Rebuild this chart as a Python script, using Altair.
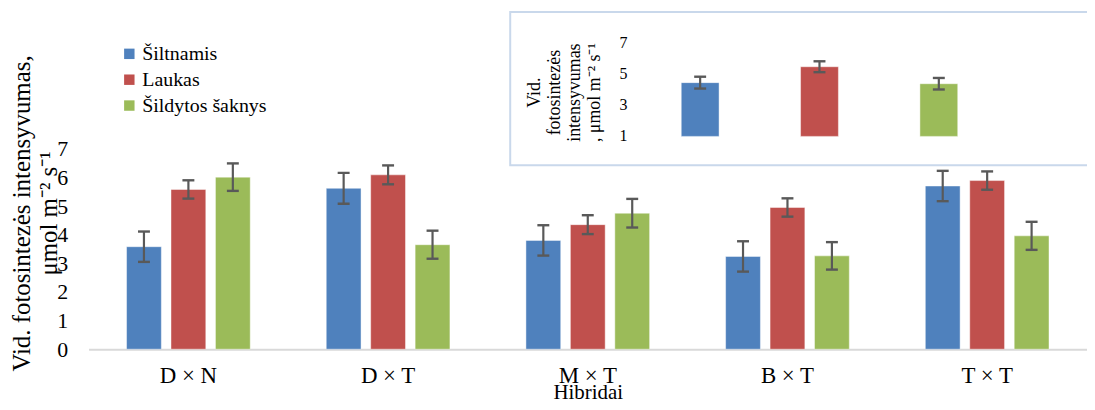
import altair as alt
import pandas as pd

# ---------------- data ----------------
hybrids = ["D × N", "D × T", "M × T", "B × T", "T × T"]
series = ["Šiltnamis", "Laukas", "Šildytos šaknys"]
colors = ["#4F81BD", "#C0504D", "#9BBB59"]

siltnamis = [3.58, 5.62, 3.80, 3.24, 5.70]
siltnamis_err = [0.53, 0.54, 0.53, 0.53, 0.53]
laukas = [5.58, 6.09, 4.35, 4.95, 5.89]
laukas_err = [0.32, 0.33, 0.33, 0.32, 0.32]
saknys = [6.01, 3.65, 4.75, 3.26, 3.96]
saknys_err = [0.48, 0.49, 0.50, 0.48, 0.49]

inset_values = [4.45, 5.47, 4.38]
inset_err = [0.38, 0.35, 0.37]

y_ticks = [0, 1, 2, 3, 4, 5, 6, 7]
inset_ticks = [1, 3, 5, 7]

y_title = ["Vid. fotosintezės intensyvumas,", "μmol m⁻² s⁻¹"]
inset_title = ["Vid.", "fotosintezės", "intensyvumas", ", μmol m⁻² s⁻¹"]
x_title = "Hibridai"

# ---------------- tables ----------------
rows = []
for s, vals, errs in zip(series, [siltnamis, laukas, saknys],
                         [siltnamis_err, laukas_err, saknys_err]):
    for h, v, e in zip(hybrids, vals, errs):
        rows.append({"hybrid": h, "series": s, "value": v, "lo": v - e, "hi": v + e})
df = pd.DataFrame(rows)

idf = pd.DataFrame({
    "series": series,
    "value": inset_values,
    "lo": [v - e for v, e in zip(inset_values, inset_err)],
    "hi": [v + e for v, e in zip(inset_values, inset_err)],
    "base": [1] * 3,
})
tdf = pd.DataFrame({"tick": inset_ticks, "label": [str(t) for t in inset_ticks]})
one = pd.DataFrame({"k": [0]})

FONT = "Liberation Serif"
ERR = "#595959"


def mx():
    return alt.Scale(domain=hybrids, paddingInner=0, paddingOuter=0)


def mxo():
    return alt.Scale(domain=series, paddingInner=0.217, paddingOuter=0.855)


def my():
    return alt.Scale(domain=[0, 11.88], nice=False, zero=True)


def ix():
    return alt.Scale(domain=series, range=[555, 915], paddingInner=0.683, paddingOuter=0.3415)


def iy():
    return alt.Scale(domain=[1, 7], range=[128, 34], nice=False, zero=False)


color = alt.Color(
    "series:N", sort=series,
    scale=alt.Scale(domain=series, range=colors),
    legend=alt.Legend(
        orient="none", legendX=31, legendY=35, title=None,
        symbolType="square", symbolSize=110, symbolStrokeWidth=0,
        labelFont=FONT, labelFontSize=20, labelColor="black",
        rowPadding=6, labelOffset=3, padding=0,
    ),
)

# ---------------- main chart ----------------
x_main = alt.X(
    "hybrid:N", sort=hybrids, scale=mx(),
    axis=alt.Axis(
        title=x_title, labelAngle=0, ticks=False, tickSize=0,
        domainColor="#D9D9D9", domainWidth=2,
        labelFont=FONT, labelFontSize=23, labelColor="black", labelPadding=15,
        titleFont=FONT, titleFontSize=21, titleFontWeight="normal", titleColor="black",
        titleBaseline="alphabetic", titleY=50,
    ),
)
y_main = alt.Y(
    "value:Q", scale=my(),
    axis=alt.Axis(
        values=y_ticks, grid=False, domain=False, ticks=False, tickSize=0,
        labelFont=FONT, labelFontSize=22, labelColor="black", labelPadding=21,
        title=y_title, titleFont=FONT, titleFontSize=25, titleFontWeight="normal",
        titleColor="black", titleAngle=270, titleAlign="center", titleBaseline="middle",
        titleLineHeight=27, titleX=-67, titleY=205,
    ),
)

bars = alt.Chart(df).mark_bar(stroke="white", strokeOpacity=0.45, strokeWidth=1).encode(
    x=x_main, xOffset=alt.XOffset("series:N", sort=series, scale=mxo()),
    y=y_main, color=color,
)


def xm():
    return alt.X("hybrid:N", sort=hybrids, scale=mx(), axis=None)


def xom():
    return alt.XOffset("series:N", sort=series, scale=mxo())


rules = alt.Chart(df).mark_rule(color=ERR, strokeWidth=2.2).encode(
    x=xm(), xOffset=xom(), y=alt.Y("lo:Q", scale=my(), axis=None), y2="hi:Q"
)
cap_lo = alt.Chart(df).mark_tick(color=ERR, size=12, thickness=2.4, opacity=1).encode(
    x=xm(), xOffset=xom(), y=alt.Y("lo:Q", scale=my(), axis=None)
)
cap_hi = alt.Chart(df).mark_tick(color=ERR, size=12, thickness=2.4, opacity=1).encode(
    x=xm(), xOffset=xom(), y=alt.Y("hi:Q", scale=my(), axis=None)
)

# ---------------- inset ----------------
box = alt.Chart(one).mark_rect(fill="white", stroke="#C9D8EB", strokeWidth=2).encode(
    x=alt.value(424), x2=alt.value(1010), y=alt.value(3), y2=alt.value(157)
)


def xi():
    return alt.X("series:N", sort=series, scale=ix(), axis=None)


ibars = alt.Chart(idf).mark_bar(stroke="white", strokeOpacity=0.45, strokeWidth=1).encode(
    x=xi(), y=alt.Y("value:Q", scale=iy(), axis=None), y2="base:Q", color=color,
)
irules = alt.Chart(idf).mark_rule(color=ERR, strokeWidth=2.2).encode(
    x=xi(), y=alt.Y("lo:Q", scale=iy(), axis=None), y2="hi:Q"
)
icap_lo = alt.Chart(idf).mark_tick(color=ERR, size=12, thickness=2.4, opacity=1).encode(
    x=xi(), y=alt.Y("lo:Q", scale=iy(), axis=None)
)
icap_hi = alt.Chart(idf).mark_tick(color=ERR, size=12, thickness=2.4, opacity=1).encode(
    x=xi(), y=alt.Y("hi:Q", scale=iy(), axis=None)
)
ilabels = alt.Chart(tdf).mark_text(
    align="right", baseline="middle", font=FONT, fontSize=16, color="black"
).encode(y=alt.Y("tick:Q", scale=iy(), axis=None), x=alt.value(542), text="label:N")
ititle = alt.Chart(one).mark_text(
    text=inset_title, angle=270, align="center", baseline="middle",
    lineHeight=20, font=FONT, fontSize=18, color="black",
).encode(x=alt.value(449), y=alt.value(84))

chart = alt.layer(
    bars, rules, cap_lo, cap_hi,
    box, ibars, irules, icap_lo, icap_hi, ilabels, ititle,
).resolve_scale(
    x="independent", y="independent"
).properties(
    width=1004, height=342,
    autosize=alt.AutoSizeParams(type="none"),
    padding={"left": 81, "top": 0, "right": 0, "bottom": 52},
    background="white",
).configure_view(stroke=None).configure_legend(
    labelFont=FONT, labelFontSize=20, labelColor="black"
)

chart.save("out.html", embed_options={"renderer": "svg", "actions": False})
